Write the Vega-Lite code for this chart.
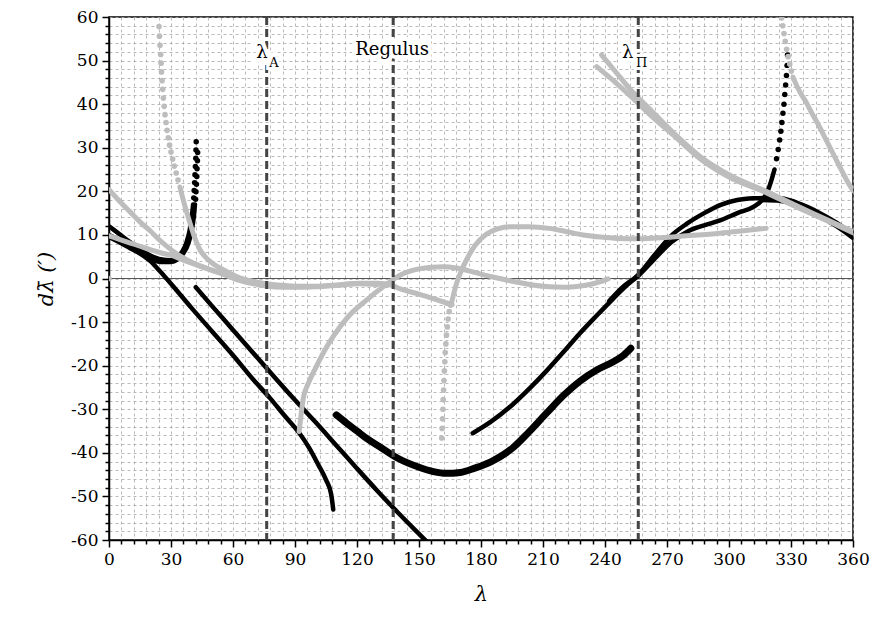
{
  "$schema": "https://vega.github.io/schema/vega-lite/v6.json",
  "width": 744,
  "height": 523,
  "autosize": "none",
  "padding": {"left": 109, "top": 17, "right": 20, "bottom": 78},
  "background": "white",
  "config": {
    "view": {"stroke": "black", "strokeWidth": 1.5},
    "font": "DejaVu Serif"
  },
  "datasets": {
    "curves": [
      {"s":"A1","g":"b","k":"l","x":0,"y":12},{"s":"A1","g":"b","k":"l","x":5,"y":10.2},{"s":"A1","g":"b","k":"l","x":10,"y":8.4},{"s":"A1","g":"b","k":"l","x":15,"y":6.7},{"s":"A1","g":"b","k":"l","x":20,"y":5.3},{"s":"A1","g":"b","k":"l","x":25,"y":4.4},{"s":"A1","g":"b","k":"l","x":30,"y":4.2},{"s":"A1","g":"b","k":"l","x":33,"y":4.8},{"s":"A1","g":"b","k":"l","x":35.5,"y":6.2},{"s":"A1","g":"b","k":"l","x":37.5,"y":8.3},{"s":"A1","g":"b","k":"l","x":39,"y":11},{"s":"A1","g":"b","k":"l","x":40,"y":14},{"s":"A1","g":"b","k":"l","x":40.7,"y":17},
      {"s":"A1d","g":"b","k":"d","x":41,"y":18.5},{"s":"A1d","g":"b","k":"d","x":41.2,"y":20.2},{"s":"A1d","g":"b","k":"d","x":41.4,"y":22},{"s":"A1d","g":"b","k":"d","x":41.6,"y":23.8},{"s":"A1d","g":"b","k":"d","x":41.8,"y":25.7},{"s":"A1d","g":"b","k":"d","x":42,"y":27.6},{"s":"A1d","g":"b","k":"d","x":42.1,"y":29.5},{"s":"A1d","g":"b","k":"d","x":42.2,"y":31.4},
      {"s":"A2","g":"b","k":"l","x":0,"y":10},{"s":"A2","g":"b","k":"l","x":5,"y":8.8},{"s":"A2","g":"b","k":"l","x":10,"y":7.5},{"s":"A2","g":"b","k":"l","x":15,"y":6},{"s":"A2","g":"b","k":"l","x":20,"y":4.6},{"s":"A2","g":"b","k":"l","x":25,"y":3.8},{"s":"A2","g":"b","k":"l","x":30,"y":3.8},{"s":"A2","g":"b","k":"l","x":33,"y":4.3},{"s":"A2","g":"b","k":"l","x":36,"y":5.8},{"s":"A2","g":"b","k":"l","x":38.5,"y":8.2},{"s":"A2","g":"b","k":"l","x":40,"y":11},{"s":"A2","g":"b","k":"l","x":41,"y":14},{"s":"A2","g":"b","k":"l","x":41.6,"y":17},
      {"s":"A2d","g":"b","k":"d","x":41.9,"y":18.2},{"s":"A2d","g":"b","k":"d","x":42.1,"y":19.9},{"s":"A2d","g":"b","k":"d","x":42.3,"y":21.6},{"s":"A2d","g":"b","k":"d","x":42.5,"y":23.4},{"s":"A2d","g":"b","k":"d","x":42.6,"y":25.2},{"s":"A2d","g":"b","k":"d","x":42.8,"y":27},{"s":"A2d","g":"b","k":"d","x":42.9,"y":28.9},
      {"s":"B","g":"b","k":"l","x":0,"y":9.5},{"s":"B","g":"b","k":"l","x":5,"y":8.3},{"s":"B","g":"b","k":"l","x":10,"y":7},{"s":"B","g":"b","k":"l","x":15,"y":5.7},{"s":"B","g":"b","k":"l","x":20,"y":4},{"s":"B","g":"b","k":"l","x":25,"y":1.5},{"s":"B","g":"b","k":"l","x":30,"y":-1.2},{"s":"B","g":"b","k":"l","x":40,"y":-6.8},{"s":"B","g":"b","k":"l","x":50,"y":-12.2},{"s":"B","g":"b","k":"l","x":60,"y":-17.6},{"s":"B","g":"b","k":"l","x":70,"y":-23.3},{"s":"B","g":"b","k":"l","x":78,"y":-27.5},{"s":"B","g":"b","k":"l","x":85,"y":-31.5},{"s":"B","g":"b","k":"l","x":92,"y":-35.4},{"s":"B","g":"b","k":"l","x":97,"y":-39},{"s":"B","g":"b","k":"l","x":101,"y":-42.5},{"s":"B","g":"b","k":"l","x":105,"y":-46.2},{"s":"B","g":"b","k":"l","x":107.5,"y":-49.5},{"s":"B","g":"b","k":"l","x":108.5,"y":-53},
      {"s":"C","g":"b","k":"l","x":42,"y":-2},{"s":"C","g":"b","k":"l","x":50,"y":-6.4},{"s":"C","g":"b","k":"l","x":60,"y":-11.8},{"s":"C","g":"b","k":"l","x":70,"y":-17.2},{"s":"C","g":"b","k":"l","x":80,"y":-22.6},{"s":"C","g":"b","k":"l","x":90,"y":-27.9},{"s":"C","g":"b","k":"l","x":100,"y":-33},{"s":"C","g":"b","k":"l","x":110,"y":-38.3},{"s":"C","g":"b","k":"l","x":120,"y":-43.6},{"s":"C","g":"b","k":"l","x":130,"y":-48.8},{"s":"C","g":"b","k":"l","x":140,"y":-53.8},{"s":"C","g":"b","k":"l","x":150,"y":-58.6},{"s":"C","g":"b","k":"l","x":154,"y":-60.5},
      {"s":"D","g":"b","k":"l","x":110,"y":-31.3},{"s":"D","g":"b","k":"l","x":115,"y":-33.2},{"s":"D","g":"b","k":"l","x":120,"y":-35},{"s":"D","g":"b","k":"l","x":125,"y":-36.8},{"s":"D","g":"b","k":"l","x":131,"y":-38.6},{"s":"D","g":"b","k":"l","x":140,"y":-41.3},{"s":"D","g":"b","k":"l","x":150,"y":-43.3},{"s":"D","g":"b","k":"l","x":157,"y":-44.3},{"s":"D","g":"b","k":"l","x":163,"y":-44.7},{"s":"D","g":"b","k":"l","x":170,"y":-44.5},{"s":"D","g":"b","k":"l","x":177,"y":-43.5},{"s":"D","g":"b","k":"l","x":185,"y":-42},{"s":"D","g":"b","k":"l","x":195.5,"y":-38.8},{"s":"D","g":"b","k":"l","x":203,"y":-35.3},{"s":"D","g":"b","k":"l","x":211.7,"y":-30.9},{"s":"D","g":"b","k":"l","x":220,"y":-26.8},{"s":"D","g":"b","k":"l","x":228,"y":-23.5},{"s":"D","g":"b","k":"l","x":236,"y":-21},{"s":"D","g":"b","k":"l","x":244,"y":-19.1},{"s":"D","g":"b","k":"l","x":249,"y":-17.6},{"s":"D","g":"b","k":"l","x":252.5,"y":-16},
      {"s":"E","g":"b","k":"l","x":176,"y":-35.5},{"s":"E","g":"b","k":"l","x":185,"y":-32.8},{"s":"E","g":"b","k":"l","x":195.6,"y":-28.8},{"s":"E","g":"b","k":"l","x":204,"y":-25},{"s":"E","g":"b","k":"l","x":211.7,"y":-21.2},{"s":"E","g":"b","k":"l","x":220,"y":-16.8},{"s":"E","g":"b","k":"l","x":228,"y":-12.5},{"s":"E","g":"b","k":"l","x":236,"y":-8.5},{"s":"E","g":"b","k":"l","x":244,"y":-4.6},{"s":"E","g":"b","k":"l","x":250,"y":-1.8},{"s":"E","g":"b","k":"l","x":256.5,"y":0.8},{"s":"E","g":"b","k":"l","x":265,"y":5},{"s":"E","g":"b","k":"l","x":272,"y":8.3},{"s":"E","g":"b","k":"l","x":280,"y":10.8},{"s":"E","g":"b","k":"l","x":288,"y":12.2},{"s":"E","g":"b","k":"l","x":296,"y":13.4},{"s":"E","g":"b","k":"l","x":304,"y":15},{"s":"E","g":"b","k":"l","x":312,"y":16.5},{"s":"E","g":"b","k":"l","x":316,"y":18},{"s":"E","g":"b","k":"l","x":318.5,"y":19.8},{"s":"E","g":"b","k":"l","x":320.5,"y":22.5},{"s":"E","g":"b","k":"l","x":322,"y":25},
      {"s":"Ed","g":"b","k":"d","x":323,"y":27.5},{"s":"Ed","g":"b","k":"d","x":323.8,"y":29.6},{"s":"Ed","g":"b","k":"d","x":324.5,"y":31.8},{"s":"Ed","g":"b","k":"d","x":325.1,"y":33.8},{"s":"Ed","g":"b","k":"d","x":325.6,"y":35.8},{"s":"Ed","g":"b","k":"d","x":326.1,"y":37.9},{"s":"Ed","g":"b","k":"d","x":326.6,"y":40},{"s":"Ed","g":"b","k":"d","x":327,"y":42.2},{"s":"Ed","g":"b","k":"d","x":327.4,"y":44.4},{"s":"Ed","g":"b","k":"d","x":327.8,"y":46.6},{"s":"Ed","g":"b","k":"d","x":328.1,"y":48.9},{"s":"Ed","g":"b","k":"d","x":328.3,"y":51.3},
      {"s":"F","g":"b","k":"l","x":242,"y":-5.2},{"s":"F","g":"b","k":"l","x":248,"y":-2.2},{"s":"F","g":"b","k":"l","x":256,"y":0.8},{"s":"F","g":"b","k":"l","x":265,"y":6},{"s":"F","g":"b","k":"l","x":272,"y":9.8},{"s":"F","g":"b","k":"l","x":280,"y":12.7},{"s":"F","g":"b","k":"l","x":288,"y":15},{"s":"F","g":"b","k":"l","x":296,"y":16.9},{"s":"F","g":"b","k":"l","x":304,"y":18},{"s":"F","g":"b","k":"l","x":312,"y":18.4},{"s":"F","g":"b","k":"l","x":320,"y":18.5},{"s":"F","g":"b","k":"l","x":325,"y":18.4},{"s":"F","g":"b","k":"l","x":335,"y":17},{"s":"F","g":"b","k":"l","x":344,"y":15},{"s":"F","g":"b","k":"l","x":352,"y":12.8},{"s":"F","g":"b","k":"l","x":360,"y":10},
      {"s":"G","g":"b","k":"l","x":316,"y":18},{"s":"G","g":"b","k":"l","x":325,"y":17.8},{"s":"G","g":"b","k":"l","x":335,"y":16.3},{"s":"G","g":"b","k":"l","x":344,"y":14.3},{"s":"G","g":"b","k":"l","x":352,"y":12},{"s":"G","g":"b","k":"l","x":360,"y":9.3},
      {"s":"G1","g":"g","k":"l","x":0,"y":20.4},{"s":"G1","g":"g","k":"l","x":5,"y":17.8},{"s":"G1","g":"g","k":"l","x":10,"y":15.4},{"s":"G1","g":"g","k":"l","x":15,"y":13},{"s":"G1","g":"g","k":"l","x":20,"y":10.9},{"s":"G1","g":"g","k":"l","x":25,"y":8.6},{"s":"G1","g":"g","k":"l","x":29.5,"y":6.8},{"s":"G1","g":"g","k":"l","x":35,"y":5},{"s":"G1","g":"g","k":"l","x":40,"y":3.7},{"s":"G1","g":"g","k":"l","x":47,"y":2.4},{"s":"G1","g":"g","k":"l","x":55,"y":1.2},{"s":"G1","g":"g","k":"l","x":62,"y":0.2},{"s":"G1","g":"g","k":"l","x":70,"y":-0.7},{"s":"G1","g":"g","k":"l","x":76,"y":-1.2},{"s":"G1","g":"g","k":"l","x":85,"y":-1.6},{"s":"G1","g":"g","k":"l","x":92,"y":-1.8},{"s":"G1","g":"g","k":"l","x":100,"y":-1.8},{"s":"G1","g":"g","k":"l","x":110,"y":-1.5},{"s":"G1","g":"g","k":"l","x":121,"y":-1.1},{"s":"G1","g":"g","k":"l","x":130,"y":-1.1},{"s":"G1","g":"g","k":"l","x":137,"y":-1.6},{"s":"G1","g":"g","k":"l","x":141,"y":-2.4},{"s":"G1","g":"g","k":"l","x":150,"y":-3.6},{"s":"G1","g":"g","k":"l","x":158,"y":-4.8},{"s":"G1","g":"g","k":"l","x":166,"y":-6},
      {"s":"H1","g":"g","k":"l","x":0,"y":9.8},{"s":"H1","g":"g","k":"l","x":5,"y":9},{"s":"H1","g":"g","k":"l","x":10,"y":8.2},{"s":"H1","g":"g","k":"l","x":15,"y":7.4},{"s":"H1","g":"g","k":"l","x":20,"y":6.6},{"s":"H1","g":"g","k":"l","x":25,"y":5.9},{"s":"H1","g":"g","k":"l","x":29.5,"y":5.4},{"s":"H1","g":"g","k":"l","x":35,"y":4.4},{"s":"H1","g":"g","k":"l","x":40,"y":3.5},{"s":"H1","g":"g","k":"l","x":47,"y":2.3},{"s":"H1","g":"g","k":"l","x":55,"y":1},{"s":"H1","g":"g","k":"l","x":62,"y":-0.3},{"s":"H1","g":"g","k":"l","x":70,"y":-1.2},{"s":"H1","g":"g","k":"l","x":76,"y":-1.7},{"s":"H1","g":"g","k":"l","x":85,"y":-2},{"s":"H1","g":"g","k":"l","x":92,"y":-2},{"s":"H1","g":"g","k":"l","x":100,"y":-1.9},{"s":"H1","g":"g","k":"l","x":110,"y":-1.6},{"s":"H1","g":"g","k":"l","x":121,"y":-1.2},{"s":"H1","g":"g","k":"l","x":130,"y":-1.4},
      {"s":"Id","g":"g","k":"d","x":24.2,"y":57.8},{"s":"Id","g":"g","k":"d","x":24.4,"y":55.6},{"s":"Id","g":"g","k":"d","x":24.7,"y":53.5},{"s":"Id","g":"g","k":"d","x":25,"y":51.4},{"s":"Id","g":"g","k":"d","x":25.2,"y":49.4},{"s":"Id","g":"g","k":"d","x":25.4,"y":47.4},{"s":"Id","g":"g","k":"d","x":25.7,"y":45.4},{"s":"Id","g":"g","k":"d","x":26,"y":43.4},{"s":"Id","g":"g","k":"d","x":26.3,"y":41.4},{"s":"Id","g":"g","k":"d","x":26.7,"y":39.5},{"s":"Id","g":"g","k":"d","x":27.1,"y":37.6},{"s":"Id","g":"g","k":"d","x":27.6,"y":35.8},{"s":"Id","g":"g","k":"d","x":28.1,"y":34},{"s":"Id","g":"g","k":"d","x":28.7,"y":32.3},{"s":"Id","g":"g","k":"d","x":29.3,"y":30.6},{"s":"Id","g":"g","k":"d","x":30,"y":29},{"s":"Id","g":"g","k":"d","x":30.8,"y":27.4},{"s":"Id","g":"g","k":"d","x":31.6,"y":25.8},{"s":"Id","g":"g","k":"d","x":32.5,"y":24.2},{"s":"Id","g":"g","k":"d","x":33.4,"y":22.6},
      {"s":"I","g":"g","k":"l","x":34.3,"y":21},{"s":"I","g":"g","k":"l","x":36.5,"y":17},{"s":"I","g":"g","k":"l","x":39.2,"y":12.7},{"s":"I","g":"g","k":"l","x":41.5,"y":9.3},{"s":"I","g":"g","k":"l","x":44,"y":6.6},{"s":"I","g":"g","k":"l","x":48,"y":4.3},{"s":"I","g":"g","k":"l","x":55.3,"y":2},{"s":"I","g":"g","k":"l","x":62,"y":0.4},{"s":"I","g":"g","k":"l","x":70,"y":-0.8},{"s":"I","g":"g","k":"l","x":76,"y":-1.4},{"s":"I","g":"g","k":"l","x":85,"y":-1.8},{"s":"I","g":"g","k":"l","x":92,"y":-1.9},
      {"s":"H2d","g":"g","k":"d","x":161,"y":-36.6},{"s":"H2d","g":"g","k":"d","x":161.2,"y":-34.4},{"s":"H2d","g":"g","k":"d","x":161.4,"y":-32.2},{"s":"H2d","g":"g","k":"d","x":161.6,"y":-30},{"s":"H2d","g":"g","k":"d","x":161.7,"y":-27.8},{"s":"H2d","g":"g","k":"d","x":161.9,"y":-25.6},{"s":"H2d","g":"g","k":"d","x":162.1,"y":-23.4},{"s":"H2d","g":"g","k":"d","x":162.3,"y":-21.2},{"s":"H2d","g":"g","k":"d","x":162.5,"y":-19.1},{"s":"H2d","g":"g","k":"d","x":162.7,"y":-17},{"s":"H2d","g":"g","k":"d","x":163,"y":-15},{"s":"H2d","g":"g","k":"d","x":163.3,"y":-13},{"s":"H2d","g":"g","k":"d","x":163.7,"y":-11.1},{"s":"H2d","g":"g","k":"d","x":164.1,"y":-9.3},{"s":"H2d","g":"g","k":"d","x":164.6,"y":-7.6},{"s":"H2d","g":"g","k":"d","x":165.2,"y":-6.1},
      {"s":"H2","g":"g","k":"l","x":165.8,"y":-5.5},{"s":"H2","g":"g","k":"l","x":166.8,"y":-3.5},{"s":"H2","g":"g","k":"l","x":168.2,"y":-1.1},{"s":"H2","g":"g","k":"l","x":170.5,"y":1.8},{"s":"H2","g":"g","k":"l","x":173,"y":4.3},{"s":"H2","g":"g","k":"l","x":177,"y":7.5},{"s":"H2","g":"g","k":"l","x":182.7,"y":10.2},{"s":"H2","g":"g","k":"l","x":188,"y":11.4},{"s":"H2","g":"g","k":"l","x":194,"y":11.9},{"s":"H2","g":"g","k":"l","x":203,"y":11.9},{"s":"H2","g":"g","k":"l","x":213,"y":11.5},{"s":"H2","g":"g","k":"l","x":221,"y":10.8},{"s":"H2","g":"g","k":"l","x":229.5,"y":10},{"s":"H2","g":"g","k":"l","x":238,"y":9.5},{"s":"H2","g":"g","k":"l","x":246,"y":9.2},{"s":"H2","g":"g","k":"l","x":256,"y":9.1},{"s":"H2","g":"g","k":"l","x":265,"y":9.3},{"s":"H2","g":"g","k":"l","x":279.5,"y":9.8},{"s":"H2","g":"g","k":"l","x":295.6,"y":10.4},{"s":"H2","g":"g","k":"l","x":308,"y":11},{"s":"H2","g":"g","k":"l","x":318,"y":11.5},
      {"s":"G2","g":"g","k":"l","x":92,"y":-35.1},{"s":"G2","g":"g","k":"l","x":93,"y":-31},{"s":"G2","g":"g","k":"l","x":94,"y":-27.5},{"s":"G2","g":"g","k":"l","x":96.5,"y":-24},{"s":"G2","g":"g","k":"l","x":100,"y":-20.5},{"s":"G2","g":"g","k":"l","x":104,"y":-16.8},{"s":"G2","g":"g","k":"l","x":108.5,"y":-13.3},{"s":"G2","g":"g","k":"l","x":116,"y":-8.6},{"s":"G2","g":"g","k":"l","x":124.7,"y":-4.9},{"s":"G2","g":"g","k":"l","x":133,"y":-1.8},{"s":"G2","g":"g","k":"l","x":141,"y":0.8},{"s":"G2","g":"g","k":"l","x":150,"y":2.2},{"s":"G2","g":"g","k":"l","x":156,"y":2.6},{"s":"G2","g":"g","k":"l","x":162,"y":2.7},{"s":"G2","g":"g","k":"l","x":168,"y":2.4},{"s":"G2","g":"g","k":"l","x":173,"y":1.9},{"s":"G2","g":"g","k":"l","x":180,"y":1},{"s":"G2","g":"g","k":"l","x":189,"y":0},{"s":"G2","g":"g","k":"l","x":197,"y":-0.8},{"s":"G2","g":"g","k":"l","x":205,"y":-1.5},{"s":"G2","g":"g","k":"l","x":213,"y":-1.9},{"s":"G2","g":"g","k":"l","x":221,"y":-2},{"s":"G2","g":"g","k":"l","x":230,"y":-1.6},{"s":"G2","g":"g","k":"l","x":237.5,"y":-0.8},{"s":"G2","g":"g","k":"l","x":241.5,"y":-0.1},
      {"s":"K1","g":"g","k":"l","x":238.3,"y":51.3},{"s":"K1","g":"g","k":"l","x":245,"y":47.5},{"s":"K1","g":"g","k":"l","x":252,"y":43.5},{"s":"K1","g":"g","k":"l","x":262,"y":38.7},{"s":"K1","g":"g","k":"l","x":274,"y":33},{"s":"K1","g":"g","k":"l","x":286,"y":28},{"s":"K1","g":"g","k":"l","x":300,"y":23.8},{"s":"K1","g":"g","k":"l","x":318,"y":20},{"s":"K1","g":"g","k":"l","x":330,"y":17.3},{"s":"K1","g":"g","k":"l","x":344,"y":14.2},{"s":"K1","g":"g","k":"l","x":352,"y":12.5},{"s":"K1","g":"g","k":"l","x":360,"y":10.8},
      {"s":"K2","g":"g","k":"l","x":236,"y":48.6},{"s":"K2","g":"g","k":"l","x":245,"y":45},{"s":"K2","g":"g","k":"l","x":252,"y":42},{"s":"K2","g":"g","k":"l","x":262,"y":37.5},{"s":"K2","g":"g","k":"l","x":274,"y":32.5},{"s":"K2","g":"g","k":"l","x":286,"y":27.5},{"s":"K2","g":"g","k":"l","x":300,"y":23.3},{"s":"K2","g":"g","k":"l","x":318,"y":19.7},{"s":"K2","g":"g","k":"l","x":330,"y":17},{"s":"K2","g":"g","k":"l","x":344,"y":14},{"s":"K2","g":"g","k":"l","x":352,"y":12.3},{"s":"K2","g":"g","k":"l","x":360,"y":10.5},
      {"s":"Jd","g":"g","k":"d","x":325.5,"y":59.8},{"s":"Jd","g":"g","k":"d","x":326,"y":58},{"s":"Jd","g":"g","k":"d","x":326.6,"y":56.2},{"s":"Jd","g":"g","k":"d","x":327.2,"y":54.4},{"s":"Jd","g":"g","k":"d","x":327.9,"y":52.6},{"s":"Jd","g":"g","k":"d","x":328.6,"y":50.9},{"s":"Jd","g":"g","k":"d","x":329.4,"y":49.2},{"s":"Jd","g":"g","k":"d","x":330.2,"y":47.6},
      {"s":"J","g":"g","k":"l","x":331,"y":46.2},{"s":"J","g":"g","k":"l","x":333,"y":44},{"s":"J","g":"g","k":"l","x":335,"y":42.2},{"s":"J","g":"g","k":"l","x":337.5,"y":40.3},{"s":"J","g":"g","k":"l","x":340,"y":38},{"s":"J","g":"g","k":"l","x":343,"y":35.5},{"s":"J","g":"g","k":"l","x":347,"y":31.8},{"s":"J","g":"g","k":"l","x":350,"y":29},{"s":"J","g":"g","k":"l","x":353,"y":26.2},{"s":"J","g":"g","k":"l","x":356,"y":23.4},{"s":"J","g":"g","k":"l","x":358.5,"y":21.3},{"s":"J","g":"g","k":"l","x":360,"y":20.2},
      {"s":"O","g":"g","k":"d","x":0,"y":0}
    ],
    "refs": [{"x": 76.3}, {"x": 137.5}, {"x": 256.1}],
    "zero": [{"y": 0}],
    "labels": [
      {"t": "λ", "x": 74, "y": 51.8, "sub": false},
      {"t": "A", "x": 79.8, "y": 49.4, "sub": true},
      {"t": "Regulus", "x": 137, "y": 52.4, "sub": false},
      {"t": "λ", "x": 251, "y": 51.8, "sub": false},
      {"t": "Π", "x": 257.8, "y": 49.4, "sub": true}
    ]
  },
  "encoding": {
    "x": {
      "field": "x", "type": "quantitative",
      "scale": {"domain": [0, 360], "nice": false, "zero": false},
      "axis": {
        "title": "λ",
        "titleFont": "DejaVu Serif", "titleFontSize": 21, "titleFontStyle": "italic", "titleFontWeight": "normal", "titleColor": "black", "titlePadding": 16,
        "values": [0,6,12,18,24,30,36,42,48,54,60,66,72,78,84,90,96,102,108,114,120,126,132,138,144,150,156,162,168,174,180,186,192,198,204,210,216,222,228,234,240,246,252,258,264,270,276,282,288,294,300,306,312,318,324,330,336,342,348,354,360],
        "labelExpr": "datum.value % 30 === 0 ? '' + datum.value : ''",
        "labelOverlap": false, "labelFlush": false,
        "labelFont": "DejaVu Serif", "labelFontSize": 17, "labelColor": "black", "labelPadding": 4,
        "tickColor": "black", "tickWidth": 1.5,
        "tickSize": {"condition": {"test": "datum.value % 30 === 0", "value": 7}, "value": 4},
        "domainColor": "black", "domainWidth": 1.5,
        "grid": true, "gridColor": "#a8a8a8", "gridDash": [3, 3], "gridWidth": 0.8
      }
    },
    "y": {
      "field": "y", "type": "quantitative",
      "scale": {"domain": [-60, 60], "nice": false, "zero": false},
      "axis": {
        "title": "dλ̄ (′)",
        "titleFont": "DejaVu Serif", "titleFontSize": 21, "titleFontStyle": "italic", "titleFontWeight": "normal", "titleColor": "black", "titlePadding": 14,
        "values": [-60,-58,-56,-54,-52,-50,-48,-46,-44,-42,-40,-38,-36,-34,-32,-30,-28,-26,-24,-22,-20,-18,-16,-14,-12,-10,-8,-6,-4,-2,0,2,4,6,8,10,12,14,16,18,20,22,24,26,28,30,32,34,36,38,40,42,44,46,48,50,52,54,56,58,60],
        "labelExpr": "datum.value % 10 === 0 ? '' + datum.value : ''",
        "labelOverlap": false, "labelFlush": false,
        "labelFont": "DejaVu Serif", "labelFontSize": 17, "labelColor": "black", "labelPadding": 4,
        "tickColor": "black", "tickWidth": 1.5,
        "tickSize": {"condition": {"test": "datum.value % 10 === 0", "value": 7}, "value": 4},
        "domainColor": "black", "domainWidth": 1.5,
        "grid": true, "gridColor": "#a8a8a8", "gridDash": [3, 3], "gridWidth": 0.8
      }
    }
  },
  "layer": [
    {
      "data": {"name": "zero"},
      "mark": {"type": "rule", "color": "#555555", "strokeWidth": 1},
      "encoding": {"x": null, "y": {"field": "y", "type": "quantitative"}}
    },
    {
      "data": {"name": "curves"},
      "transform": [{"filter": "datum.g === 'b' && datum.k === 'l' && datum.s !== 'D'"}],
      "mark": {"type": "line", "color": "black", "strokeWidth": 4.5, "clip": true, "strokeCap": "round", "strokeJoin": "round", "interpolate": "monotone"},
      "encoding": {"detail": {"field": "s"}}
    },
    {
      "data": {"name": "curves"},
      "transform": [{"filter": "datum.s === 'D'"}],
      "mark": {"type": "line", "color": "black", "strokeWidth": 7, "clip": true, "strokeCap": "round", "strokeJoin": "round", "interpolate": "monotone"},
      "encoding": {"detail": {"field": "s"}}
    },
    {
      "data": {"name": "curves"},
      "transform": [{"filter": "datum.g === 'b' && datum.k === 'd'"}],
      "mark": {"type": "point", "filled": true, "color": "black", "size": 30, "opacity": 1, "clip": true},
      "encoding": {}
    },
    {
      "data": {"name": "curves"},
      "transform": [{"filter": "datum.g === 'g' && datum.k === 'l'"}],
      "mark": {"type": "line", "color": "#bdbdbd", "strokeWidth": 5, "clip": true, "strokeCap": "round", "strokeJoin": "round", "interpolate": "monotone"},
      "encoding": {"detail": {"field": "s"}}
    },
    {
      "data": {"name": "curves"},
      "transform": [{"filter": "datum.g === 'g' && datum.k === 'd'"}],
      "mark": {"type": "point", "filled": true, "color": "#bdbdbd", "size": 32, "opacity": 1, "clip": true},
      "encoding": {}
    },
    {
      "data": {"name": "refs"},
      "mark": {"type": "rule", "color": "#444444", "strokeWidth": 3, "strokeDash": [8, 4]},
      "encoding": {"x": {"field": "x", "type": "quantitative"}, "y": null}
    },
    {
      "data": {"name": "labels"},
      "transform": [{"filter": "!datum.sub"}],
      "mark": {"type": "text", "font": "DejaVu Serif", "fontSize": 18, "fill": "white", "stroke": "white", "strokeWidth": 8, "align": "center", "baseline": "middle"},
      "encoding": {"text": {"field": "t"}}
    },
    {
      "data": {"name": "labels"},
      "transform": [{"filter": "datum.sub"}],
      "mark": {"type": "text", "font": "DejaVu Serif", "fontSize": 13, "fill": "white", "stroke": "white", "strokeWidth": 6, "align": "center", "baseline": "middle"},
      "encoding": {"text": {"field": "t"}}
    },
    {
      "data": {"name": "labels"},
      "transform": [{"filter": "!datum.sub"}],
      "mark": {"type": "text", "font": "DejaVu Serif", "fontSize": 18, "color": "black", "align": "center", "baseline": "middle"},
      "encoding": {"text": {"field": "t"}}
    },
    {
      "data": {"name": "labels"},
      "transform": [{"filter": "datum.sub"}],
      "mark": {"type": "text", "font": "DejaVu Serif", "fontSize": 13, "color": "black", "align": "center", "baseline": "middle"},
      "encoding": {"text": {"field": "t"}}
    }
  ]
}
